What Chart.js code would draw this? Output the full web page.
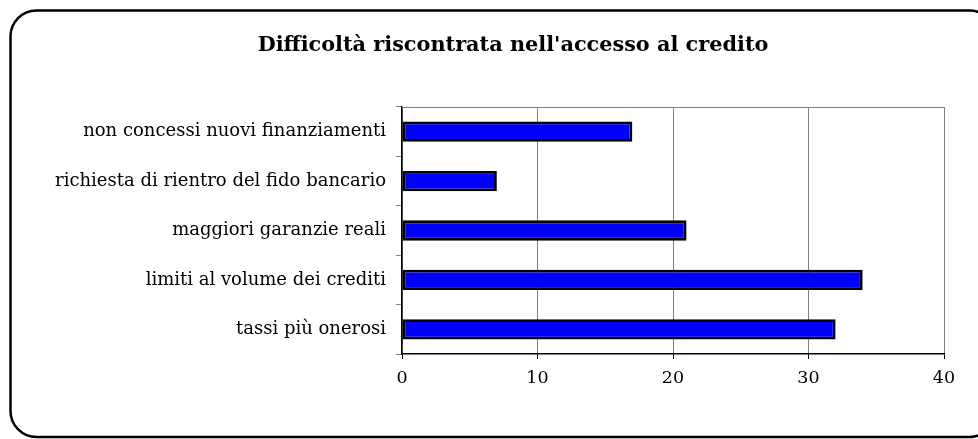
<!DOCTYPE html>
<html>
<head>
<meta charset="utf-8">
<script src="https://cdn.jsdelivr.net/npm/chart.js@4"></script>
<style>
html,body{margin:0;padding:0;background:#fff;}
#wrap{width:978px;height:439px;position:relative;}
</style>
</head>
<body>
<div id="wrap"><canvas id="c" width="978" height="439"></canvas></div>
<script>
const titleText = "Difficoltà riscontrata nell'accesso al credito";
const categories = [
  "non concessi nuovi finanziamenti",
  "richiesta di rientro del fido bancario",
  "maggiori garanzie reali",
  "limiti al volume dei crediti",
  "tassi più onerosi"
];
const values = [17, 7, 21, 34, 32];
const xMin = 0, xMax = 40, xStep = 10;

const frame = {
  id: 'frame',
  beforeDraw(chart) {
    const ctx = chart.ctx;
    ctx.save();
    ctx.fillStyle = '#fff';
    ctx.fillRect(0, 0, chart.width, chart.height);
    ctx.restore();
  },
  afterDraw(chart) {
    const ctx = chart.ctx;
    const a = chart.chartArea;
    ctx.save();
    ctx.strokeStyle = '#808080';
    ctx.lineWidth = 1;
    ctx.beginPath();
    ctx.moveTo(a.left, a.top + 0.5);
    ctx.lineTo(a.right, a.top + 0.5);
    ctx.stroke();
    ctx.strokeStyle = '#000';
    ctx.lineWidth = 2.5;
    ctx.beginPath();
    ctx.roundRect(10.5, 10.5, 985, 426.5, 26);
    ctx.stroke();
    // chart title
    ctx.fillStyle = '#000';
    ctx.font = 'bold 20.8px "DejaVu Serif"';
    ctx.textAlign = 'center';
    ctx.textBaseline = 'middle';
    ctx.fillText(titleText, 513, 46);
    ctx.restore();
  }
};

new Chart(document.getElementById('c'), {
  type: 'bar',
  data: {
    labels: categories,
    datasets: [{
      data: values,
      backgroundColor: '#0000ff',
      borderColor: '#000000',
      borderWidth: 2.8,
      borderSkipped: false,
      barPercentage: 0.41,
      categoryPercentage: 1
    }]
  },
  options: {
    indexAxis: 'y',
    responsive: false,
    animation: false,
    devicePixelRatio: 1,
    layout: { padding: { left: 48, right: 34, top: 107, bottom: 0 } },
    plugins: {
      legend: { display: false },
      tooltip: { enabled: false },
      title: { display: false }
    },
    scales: {
      x: {
        min: xMin, max: xMax,
        ticks: { stepSize: xStep, color: '#000', padding: 9, font: { family: 'DejaVu Serif', size: 17.5 } },
        grid: { color: '#808080', lineWidth: 1, tickLength: 5, tickColor: '#000' },
        border: { color: '#000', width: 1.5 },
        afterFit(s) { s.height = 85; }
      },
      y: {
        ticks: { color: '#000', padding: 10, font: { family: 'DejaVu Serif', size: 18 } },
        grid: { drawOnChartArea: false, offset: true, tickLength: 6, color: '#808080' },
        border: { color: '#000', width: 1.5 },
        afterFit(s) { s.width = 354; }
      }
    }
  },
  plugins: [frame]
});
</script>
</body>
</html>
